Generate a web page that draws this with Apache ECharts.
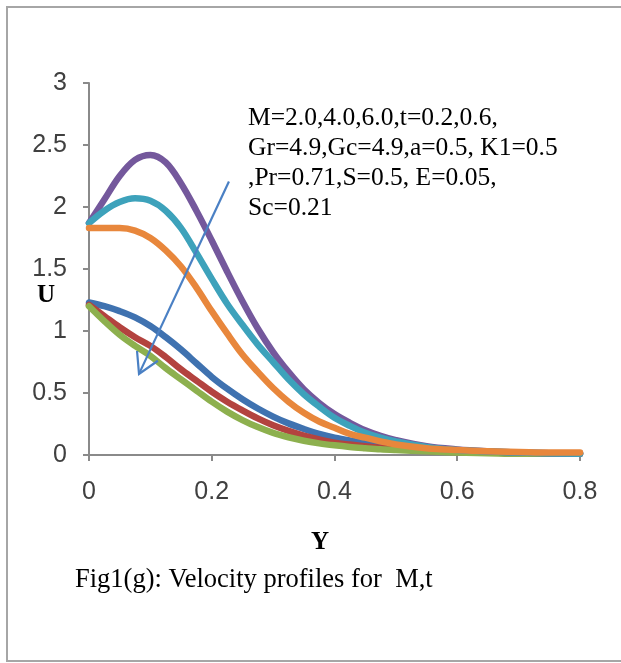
<!DOCTYPE html>
<html>
<head>
<meta charset="utf-8">
<script src="https://cdn.jsdelivr.net/npm/echarts@6/dist/echarts.min.js"></script>
<style>
html,body{margin:0;padding:0;background:#fff;}
#c{width:621px;height:663px;}
</style>
</head>
<body>
<div id="c"></div>
<script>
const yPos = [0, 0.025, 0.05, 0.075, 0.1, 0.125, 0.15, 0.175, 0.2, 0.225, 0.25, 0.275, 0.3, 0.325, 0.35, 0.375, 0.4, 0.425, 0.45, 0.475, 0.5, 0.55, 0.6, 0.65, 0.7, 0.75, 0.8];
const blueU   = [1.23, 1.20, 1.16, 1.11, 1.04, 0.95, 0.85, 0.74, 0.63, 0.535, 0.45, 0.375, 0.31, 0.255, 0.21, 0.17, 0.14, 0.117, 0.098, 0.082, 0.07, 0.05, 0.035, 0.025, 0.02, 0.015, 0.015];
const redU    = [1.21, 1.12, 1.03, 0.95, 0.88, 0.79, 0.69, 0.60, 0.51, 0.43, 0.36, 0.295, 0.24, 0.195, 0.157, 0.126, 0.10, 0.084, 0.07, 0.059, 0.05, 0.035, 0.025, 0.02, 0.015, 0.01, 0.01];
const greenU  = [1.20, 1.08, 0.97, 0.88, 0.80, 0.70, 0.61, 0.52, 0.43, 0.35, 0.282, 0.225, 0.178, 0.143, 0.115, 0.094, 0.078, 0.065, 0.055, 0.046, 0.04, 0.03, 0.02, 0.015, 0.01, 0.01, 0.01];
const purpleU = [1.87, 2.06, 2.25, 2.38, 2.42, 2.36, 2.19, 1.97, 1.73, 1.48, 1.24, 1.02, 0.83, 0.67, 0.53, 0.42, 0.33, 0.26, 0.20, 0.155, 0.12, 0.07, 0.045, 0.03, 0.02, 0.015, 0.01];
const tealU   = [1.87, 1.97, 2.04, 2.07, 2.05, 1.97, 1.83, 1.63, 1.42, 1.22, 1.05, 0.89, 0.75, 0.61, 0.49, 0.39, 0.30, 0.235, 0.18, 0.14, 0.11, 0.065, 0.04, 0.03, 0.02, 0.015, 0.01];
const orangeU = [1.83, 1.83, 1.83, 1.81, 1.75, 1.65, 1.52, 1.35, 1.16, 0.98, 0.81, 0.67, 0.54, 0.43, 0.34, 0.27, 0.22, 0.17, 0.14, 0.11, 0.085, 0.055, 0.04, 0.03, 0.025, 0.02, 0.02];
const xTicks = [0, 0.2, 0.4, 0.6, 0.8];
const yTicks = [0, 0.5, 1, 1.5, 2, 2.5, 3];
const annotationLines = ['M=2.0,4.0,6.0,t=0.2,0.6,', 'Gr=4.9,Gc=4.9,a=0.5, K1=0.5', ',Pr=0.71,S=0.5, E=0.05,', 'Sc=0.21'];
const arrowFrom = [0.228, 2.205];
const arrowTo = [0.0815, 0.654];

const seriesDefs = [
  {data: blueU, color: '#3f72b0'},
  {data: redU, color: '#b3433f'},
  {data: greenU, color: '#8db04e'},
  {data: purpleU, color: '#74589c'},
  {data: tealU, color: '#3da2bb'},
  {data: orangeU, color: '#e8873c'}
];

const chart = echarts.init(document.getElementById('c'), null, {renderer: 'canvas'});
const axisCol = '#8a8a8a';
const option = {
  animation: false,
  backgroundColor: '#fff',
  grid: {left: 89, top: 83, right: 41, bottom: 208, containLabel: false},
  xAxis: {
    type: 'value', min: 0, max: 0.8, interval: 0.2,
    axisLine: {show: true, onZero: false, lineStyle: {color: axisCol, width: 2}},
    axisTick: {show: true, inside: false, length: 6, lineStyle: {color: axisCol, width: 2}},
    splitLine: {show: false},
    axisLabel: {margin: 25, fontFamily: 'Liberation Sans', fontSize: 25, color: '#404040',
      formatter: v => { const t = xTicks.find(k => Math.abs(k - v) < 1e-9); return t === undefined ? '' : String(t); }}
  },
  yAxis: {
    type: 'value', min: 0, max: 3, interval: 0.5,
    axisLine: {show: true, onZero: false, lineStyle: {color: axisCol, width: 2}},
    axisTick: {show: true, inside: false, length: 6, lineStyle: {color: axisCol, width: 2}},
    splitLine: {show: false},
    axisLabel: {margin: 22, fontFamily: 'Liberation Sans', fontSize: 25, color: '#404040',
      formatter: v => { const t = yTicks.find(k => Math.abs(k - v) < 1e-9); return t === undefined ? '' : String(t); }}
  },
  series: seriesDefs.map(s => ({
    type: 'line', smooth: 0.35, showSymbol: false, symbol: 'none',
    data: yPos.map((x, i) => [x, s.data[i]]),
    lineStyle: {color: s.color, width: 6.5, cap: 'round', join: 'round'},
    itemStyle: {color: s.color},
    z: 2
  }))
};
chart.setOption(option);

function pix(p) { return chart.convertToPixel({gridIndex: 0}, p); }
const a0 = pix(arrowFrom), a1 = pix(arrowTo);
const dx = a0[0] - a1[0], dy = a0[1] - a1[1];
const len = Math.hypot(dx, dy);
const ux = dx / len, uy = dy / len;
const hl = 23, ang = 30 * Math.PI / 180;
function rot(x, y, t) { return [x * Math.cos(t) - y * Math.sin(t), x * Math.sin(t) + y * Math.cos(t)]; }
const h1 = rot(ux, uy, ang), h2 = rot(ux, uy, -ang);
const arrowCol = '#4a80c4';
const frameCol = '#a6a6a6';

const graphics = [
  {type: 'polyline', shape: {points: [[640, 7], [7, 7], [7, 661], [640, 661]]}, style: {stroke: frameCol, lineWidth: 2, fill: 'none'}, z: 0, silent: true},
  {type: 'line', shape: {x1: a0[0], y1: a0[1], x2: a1[0], y2: a1[1]}, style: {stroke: arrowCol, lineWidth: 2.2}, z: 10},
  {type: 'polyline', shape: {points: [[a1[0] + h1[0] * hl, a1[1] + h1[1] * hl], [a1[0], a1[1]], [a1[0] + h2[0] * hl, a1[1] + h2[1] * hl]]}, style: {stroke: arrowCol, lineWidth: 2.2, fill: 'none'}, z: 10},
  {type: 'text', x: 46, y: 296, style: {text: 'U', font: 'bold 25px "Liberation Serif"', fill: '#000', textAlign: 'center', textVerticalAlign: 'middle'}, z: 10},
  {type: 'text', x: 320, y: 543, style: {text: 'Y', font: 'bold 25px "Liberation Serif"', fill: '#000', textAlign: 'center', textVerticalAlign: 'middle'}, z: 10},
  {type: 'text', x: 75, y: 580, style: {text: 'Fig1(g): Velocity profiles for  M,t', font: '26.5px "Liberation Serif"', fill: '#000', textAlign: 'left', textVerticalAlign: 'middle'}, z: 10}
];
annotationLines.forEach((t, i) => {
  graphics.push({type: 'text', x: 248, y: 118 + i * 30, style: {text: t, font: '25.5px "Liberation Serif"', fill: '#000', textAlign: 'left', textVerticalAlign: 'middle'}, z: 10});
});
chart.setOption({graphic: graphics});
</script>
</body>
</html>
